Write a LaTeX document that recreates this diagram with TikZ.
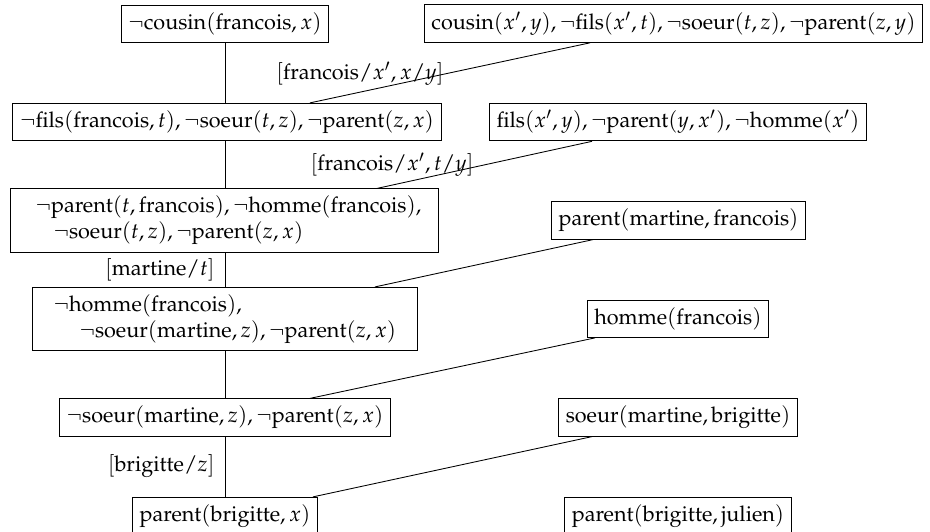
\documentclass[tikz,border=0pt]{standalone}
\usepackage[T1]{fontenc}
\usepackage{mathpazo}
\newdimen\pxu
\pxu=0.4630pt
\newcommand{\fn}[1]{\mathrm{#1}}
\begin{document}
\begin{tikzpicture}[x=0.4630pt,y=-0.4630pt,
  box/.style={draw, line width=0.4pt, inner sep=0.3333em},
  lab/.style={inner sep=0pt, anchor=east},
  link/.style={line width=0.4pt}]
\useasboundingbox (0,0) rectangle (930,532);
\node[box] (b1) at (225,23.5) {$\neg\fn{cousin}(\fn{francois},x)$};
\node[box] (b2) at (673.5,23.5) {$\fn{cousin}(x',y),\neg\fn{fils}(x',t),\neg\fn{soeur}(t,z),\neg\fn{parent}(z,y)$};
\node[box] (b3) at (227,122) {$\neg\fn{fils}(\fn{francois},t),\neg\fn{soeur}(t,z),\neg\fn{parent}(z,x)$};
\node[box] (b4) at (678,122) {$\fn{fils}(x',y),\neg\fn{parent}(y,x'),\neg\fn{homme}(x')$};
\node[box,align=left,text width=414\pxu] (b5) at (224.5,220.5) {\hspace*{18\pxu}$\neg\fn{parent}(t,\fn{francois}),\neg\fn{homme}(\fn{francois}),$\\\hspace*{36\pxu}$\neg\fn{soeur}(t,z),\neg\fn{parent}(z,x)$};
\node[box] (b6) at (678.5,220.5) {$\fn{parent}(\fn{martine},\fn{francois})$};
\node[box,align=left,text width=371\pxu] (b7) at (225,319) {\hspace*{14\pxu}$\neg\fn{homme}(\fn{francois}),$\\\hspace*{40\pxu}$\neg\fn{soeur}(\fn{martine},z),\neg\fn{parent}(z,x)$};
\node[box] (b8) at (678,319) {$\fn{homme}(\fn{francois})$};
\node[box] (b9) at (225,417.5) {$\neg\fn{soeur}(\fn{martine},z),\neg\fn{parent}(z,x)$};
\node[box] (b10) at (678,417.5) {$\fn{soeur}(\fn{martine},\fn{brigitte})$};
\node[box] (b11) at (225,516) {$\fn{parent}(\fn{brigitte},x)$};
\node[box] (b12) at (678,516) {$\fn{parent}(\fn{brigitte},\fn{julien})$};
\node[lab] (l1) at (444,74) {$[\fn{francois}/x',x/y]$};
\node[lab] (l2) at (474,165) {$[\fn{francois}/x',t/y]$};
\node[lab] (l3) at (215,270) {$[\fn{martine}/t]$};
\node[lab] (l4) at (215,466.5) {$[\fn{brigitte}/z]$};
\draw[link] (b1.south) -- (b3.north -| b1.south);
\draw[link] (b3.south -| b1.south) -- (b5.north -| b1.south);
\draw[link] (b5.south -| b1.south) -- (b7.north -| b1.south);
\draw[link] (b7.south) -- (b9.north);
\draw[link] (b9.south) -- (b11.north);
\draw[link] (b3.north -| 310,0) -- (b2.south -| 590,0);
\draw[link] (b5.north -| 377,0) -- (b4.south -| 592,0);
\draw[link] (b7.north -| 375,0) -- (b6.south -| 593,0);
\draw[link] (b9.north -| 310,0) -- (b8.south -| 595,0);
\draw[link] (b11.north -| 313,0) -- (b10.south -| 592,0);
\end{tikzpicture}
\end{document}
